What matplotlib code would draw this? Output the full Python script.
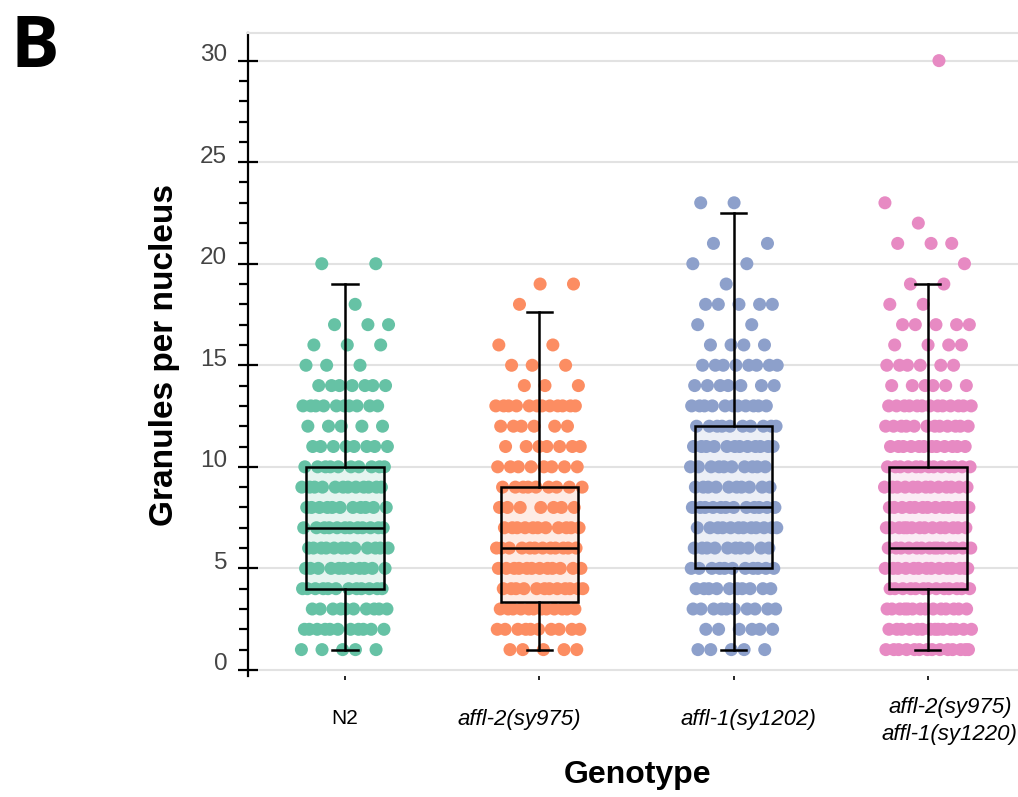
import numpy as np
import matplotlib
matplotlib.use("Agg")
import matplotlib.pyplot as plt
from matplotlib.transforms import ScaledTranslation

# ---------------- data ----------------
genotypes = ["N2", "affl-2(sy975)", "affl-1(sy1202)", "affl-2(sy975)\naffl-1(sy1220)"]
colors = ["#66c2a5", "#fc8d62", "#8da0cb", "#e78ac3"]

# granules per nucleus value -> number of nuclei with that value
n2_values = [1, 2, 3, 4, 5, 6, 7, 8, 9, 10, 11, 12, 13, 14, 15, 16, 17, 18, 20]
n2_counts = [5, 11, 10, 12, 11, 12, 12, 11, 12, 10, 8, 5, 10, 7, 3, 3, 3, 1, 2]

affl2_values = [1, 2, 3, 4, 5, 6, 7, 8, 9, 10, 11, 12, 13, 14, 15, 16, 18, 19]
affl2_counts = [5, 10, 12, 12, 12, 12, 11, 7, 9, 8, 7, 6, 12, 3, 3, 2, 1, 2]

affl1_values = [1, 2, 3, 4, 5, 6, 7, 8, 9, 10, 11, 12, 13, 14, 15, 16, 17, 18, 19, 20, 21, 23]
affl1_counts = [5, 6, 10, 10, 11, 10, 12, 12, 10, 10, 12, 10, 11, 7, 8, 4, 2, 5, 1, 2, 2, 2]

double_values = [1, 2, 3, 4, 5, 6, 7, 8, 9, 10, 11, 12, 13, 14, 15, 16, 17, 18, 19, 20, 21, 22, 23, 30]
double_counts = [14, 14, 14, 13, 14, 14, 14, 14, 13, 13, 12, 12, 13, 6, 6, 4, 5, 2, 2, 1, 3, 1, 1, 1]

# box statistics
box_q1 = [4, 3.35, 5, 4]
box_med = [7, 6, 8, 6]
box_q3 = [10, 9, 12, 10]
box_whislo = [1, 1, 1, 1]
box_whishi = [19, 17.6, 22.5, 19]

yticks_major = [0, 5, 10, 15, 20, 25, 30]

groups = [(n2_values, n2_counts), (affl2_values, affl2_counts),
          (affl1_values, affl1_counts), (double_values, double_counts)]

# ---------------- figure ----------------
plt.rcParams['font.family'] = ['Liberation Sans', 'DejaVu Sans']
fig = plt.figure(figsize=(10.18, 7.97), dpi=100)
ax = fig.add_axes([0.2436, 0.1518, 0.7564, 0.8068])

positions = np.arange(len(genotypes))
phi = 0.6180339887
half_w = 0.225

stats = []
for g in range(len(genotypes)):
    stats.append(dict(med=box_med[g], q1=box_q1[g], q3=box_q3[g],
                      whislo=box_whislo[g], whishi=box_whishi[g], fliers=[]))

# box fill (behind the points)
for g in range(len(genotypes)):
    ax.bxp([stats[g]], positions=[positions[g]], widths=0.4, patch_artist=True,
           showfliers=False, showcaps=False,
           boxprops=dict(facecolor=colors[g], alpha=0.16, edgecolor='none'),
           whiskerprops=dict(visible=False), medianprops=dict(visible=False),
           manage_ticks=False, zorder=1)

# jittered points
for g, (vals, cnts) in enumerate(groups):
    xs, ys = [], []
    i = 0
    for v, c in zip(vals, cnts):
        for k in range(c):
            frac = (i * phi + 0.31 * g) % 1.0
            xs.append(positions[g] + (frac - 0.5) * 2 * half_w)
            ys.append(v)
            i += 1
    ax.scatter(xs, ys, s=88, color=colors[g], edgecolors='none', zorder=2)

# box outlines on top
lw = 1.8
ax.bxp(stats, positions=positions, widths=0.4, patch_artist=True,
       showfliers=False,
       boxprops=dict(facecolor='none', edgecolor='black', linewidth=lw),
       whiskerprops=dict(color='black', linewidth=lw),
       capprops=dict(color='black', linewidth=lw),
       medianprops=dict(color='black', linewidth=lw),
       capwidths=0.13, manage_ticks=False, zorder=3)

# axes styling
ax.set_xlim(-0.5, 3.464)
ax.set_ylim(-0.3, 31.36)
ax.set_yticks(yticks_major)
ax.set_yticks(np.arange(0, 31, 1), minor=True)
ax.yaxis.grid(True, which='major', color='#e2e2e2', linewidth=1.5, zorder=0)
ax.set_axisbelow(True)

for side in ['right', 'bottom']:
    ax.spines[side].set_visible(False)
ax.spines['top'].set_color('#e2e2e2')
ax.spines['top'].set_linewidth(1.5)
ax.spines['left'].set_linewidth(1.6)

ax.tick_params(axis='y', which='major', direction='inout', length=14, width=1.6,
               labelsize=17.5, labelcolor='#444444', pad=8)
ax.tick_params(axis='y', which='minor', direction='out', length=6.5, width=1.6)
ax.tick_params(axis='x', which='major', direction='out', length=3, width=1.2,
               labelsize=16, pad=12)

ax.set_xticks(positions)
ax.set_xticklabels(genotypes, linespacing=1.4)

# small placement tweaks of tick labels (pixels)
x_offsets = [(0, -12), (-20, -12), (15, -12), (22, 0)]
for g, lab in enumerate(ax.get_xticklabels()):
    if g > 0:
        lab.set_style('italic')
    if g == 0:
        lab.set_fontsize(15)
    dx, dy = x_offsets[g]
    lab.set_transform(lab.get_transform() + ScaledTranslation(dx / 100, dy / 100, fig.dpi_scale_trans))

for lab in ax.get_yticklabels():
    lab.set_transform(lab.get_transform() + ScaledTranslation(0, 8 / 100, fig.dpi_scale_trans))

ax.set_ylabel("Granules per nucleus", fontsize=24, fontweight='bold')
ax.yaxis.set_label_coords(-0.108, 0.499)
ax.yaxis.label.set_va('center')

ax.set_xlabel("Genotype", fontsize=23, fontweight='bold')
ax.xaxis.set_label_coords(0.506, -0.154)
ax.xaxis.label.set_va('center')

fig.text(0.010, 0.985, "B", fontsize=52, fontweight='bold', va='top', ha='left',
         family=['Open Sans', 'DejaVu Sans'])

fig.savefig("out.png", dpi=100)
